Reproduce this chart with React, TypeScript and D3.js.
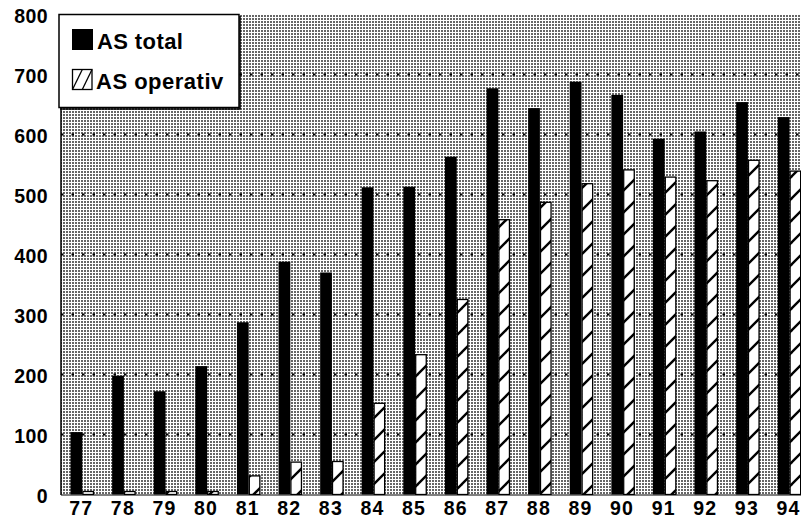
import React from 'react';
import * as d3 from 'd3';

const years = ['77', '78', '79', '80', '81', '82', '83', '84', '85', '86', '87', '88', '89', '90', '91', '92', '93', '94'];
const asTotal = [104, 198, 172, 214, 287, 388, 370, 512, 513, 563, 677, 644, 688, 666, 593, 605, 654, 629];
const asOperativ = [5, 5, 5, 5, 31, 54, 55, 152, 233, 325, 458, 487, 518, 541, 529, 523, 557, 539];
const yTicks = [0, 100, 200, 300, 400, 500, 600, 700, 800];
const gridTicks = [100, 200, 300, 400, 500, 600, 700];
const legendLabels = ['AS total', 'AS operativ'];

const W = 801;
const H = 527;
const plotLeft = 61;
const plotTop = 14;
const plotBottom = 495;

export default function App() {
  const y = d3.scaleLinear().domain([0, 800]).range([494.5, 14.5]);
  const step = 41.6;
  const x = d3
    .scaleBand<string>()
    .domain(years)
    .range([61.5, 61.5 + years.length * step])
    .paddingInner(0.435)
    .paddingOuter(0.2175);
  const bw = x.bandwidth() / 2;
  const font = '"Liberation Sans", Arial, Helvetica, sans-serif';

  return (
    <svg
      width={W}
      height={H}
      style={{ position: 'absolute', left: 0, top: 0, display: 'block', background: '#fff' }}
    >
      <defs>
        <pattern id="bg" width={3} height={3} patternUnits="userSpaceOnUse">
          <rect width={3} height={3} fill="#ffffff" />
          <rect x={0} y={0} width={2} height={2} fill="#666" />
        </pattern>
        <pattern id="hatch" width={22} height={22} patternUnits="userSpaceOnUse">
          <rect width={22} height={22} fill="#fff" />
          <line x1={-2} y1={24} x2={24} y2={-2} stroke="#000" strokeWidth={2.4} />
          <line x1={-13} y1={13} x2={13} y2={-13} stroke="#000" strokeWidth={2.4} />
          <line x1={9} y1={35} x2={35} y2={9} stroke="#000" strokeWidth={2.4} />
        </pattern>
        <clipPath id="plotclip">
          <rect x={plotLeft} y={plotTop} width={W - plotLeft} height={plotBottom - plotTop} />
        </clipPath>
      </defs>

      {/* plot background */}
      <rect x={plotLeft} y={plotTop} width={W - plotLeft} height={plotBottom - plotTop} fill="url(#bg)" />

      {/* gridlines */}
      {gridTicks.map((t) => (
        <line
          key={t}
          x1={plotLeft}
          x2={W}
          y1={y(t)}
          y2={y(t)}
          stroke="#000"
          strokeWidth={2}
          strokeDasharray="2.5,8"
        />
      ))}

      {/* bars */}
      <g clipPath="url(#plotclip)">
        {years.map((yr, i) => {
          const x0 = x(yr) as number;
          return (
            <g key={yr}>
              <rect x={x0} y={y(asTotal[i])} width={bw} height={y(0) - y(asTotal[i])} fill="#000" />
              <rect
                x={x0 + bw + 0.6}
                y={y(asOperativ[i])}
                width={bw - 1.2}
                height={y(0) - y(asOperativ[i])}
                fill="url(#hatch)"
                stroke="#000"
                strokeWidth={1.3}
              />
            </g>
          );
        })}
      </g>

      {/* axes lines */}
      <line x1={plotLeft} x2={plotLeft} y1={plotTop} y2={plotBottom} stroke="#000" strokeWidth={1.5} />
      <line x1={plotLeft} x2={W} y1={plotBottom} y2={plotBottom} stroke="#000" strokeWidth={1} />

      {/* y tick labels */}
      {yTicks.map((t) => (
        <text
          key={t}
          x={48}
          y={y(t) + 1}
          textAnchor="end"
          dominantBaseline="central"
          fontFamily={font}
          fontWeight="bold"
          fontSize={19.5}
          letterSpacing={0.4}
          fill="#000"
        >
          {t}
        </text>
      ))}

      {/* x tick labels */}
      {years.map((yr) => (
        <text
          key={yr}
          x={(x(yr) as number) + x.bandwidth() / 2 - 1}
          y={515}
          textAnchor="middle"
          fontFamily={font}
          fontWeight="bold"
          fontSize={19.5}
          letterSpacing={1.2}
          fill="#000"
        >
          {yr}
        </text>
      ))}

      {/* legend */}
      <g>
        <rect x={59} y={14.5} width={180} height={93} fill="#fff" stroke="#000" strokeWidth={1.5} />
        <line x1={240} x2={240} y1={16} y2={109} stroke="#000" strokeWidth={1.5} />
        <line x1={60} x2={240.5} y1={109} y2={109} stroke="#000" strokeWidth={1.5} />
        <rect x={72} y={29} width={21} height={21} fill="#000" />
        <text x={97} y={49} fontFamily={font} fontWeight="bold" fontSize={22} letterSpacing={0.4} fill="#000">
          {legendLabels[0]}
        </text>
        <rect x={72.5} y={69.5} width={19.5} height={20} fill="#fff" stroke="#000" strokeWidth={1.3} />
        <line x1={72.5} y1={89.5} x2={82.3} y2={69.5} stroke="#000" strokeWidth={1.3} />
        <line x1={82.3} y1={89.5} x2={92} y2={69.5} stroke="#000" strokeWidth={1.3} />
        <text x={96} y={89} fontFamily={font} fontWeight="bold" fontSize={22} letterSpacing={0.5} fill="#000">
          {legendLabels[1]}
        </text>
      </g>
    </svg>
  );
}
